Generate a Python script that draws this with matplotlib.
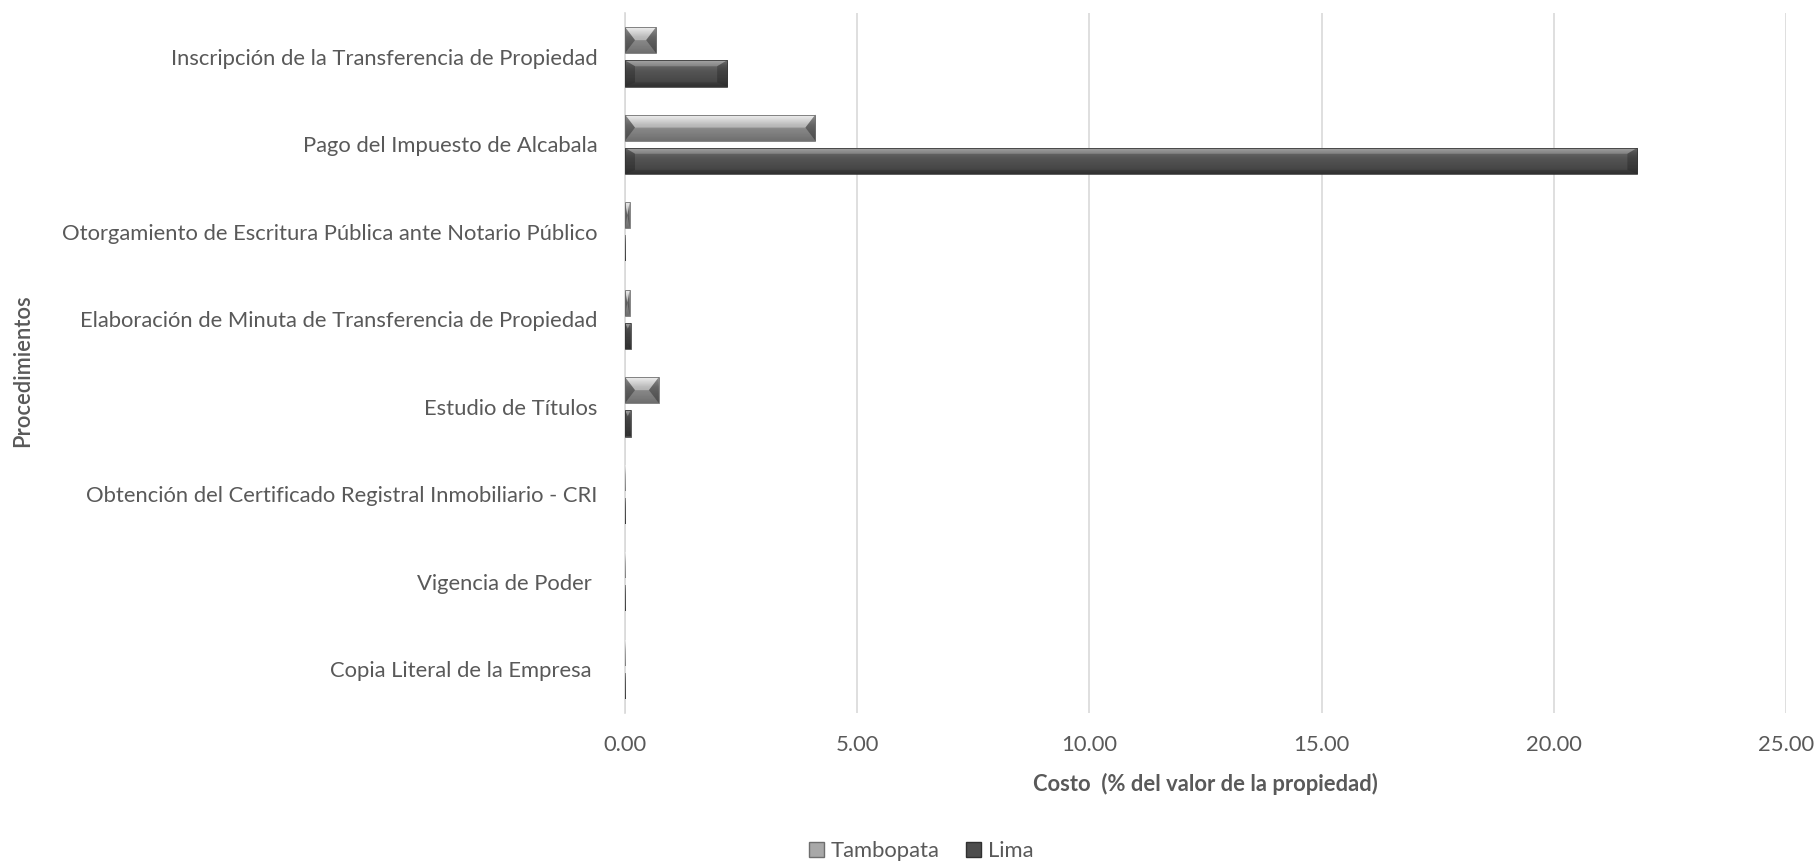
import numpy as np
import matplotlib
matplotlib.use("Agg")
import matplotlib.pyplot as plt
from matplotlib.colors import LinearSegmentedColormap
from matplotlib.patches import Patch, Polygon

plt.rcParams['font.family'] = ['Lato', 'DejaVu Sans']

# Procedures, listed bottom to top as drawn on the category axis
procedimientos = [
    "Copia Literal de la Empresa ",
    "Vigencia de Poder ",
    "Obtención del Certificado Registral Inmobiliario - CRI",
    "Estudio de Títulos",
    "Elaboración de Minuta de Transferencia de Propiedad",
    "Otorgamiento de Escritura Pública ante Notario Público",
    "Pago del Impuesto de Alcabala",
    "Inscripción de la Transferencia de Propiedad",
]
# Cost as % of property value
tambopata = [0.01, 0.01, 0.01, 0.73, 0.10, 0.10, 4.10, 0.67]
lima = [0.01, 0.01, 0.01, 0.12, 0.12, 0.01, 21.80, 2.20]

x_ticks = [0, 5, 10, 15, 20, 25]

TXT = "#595959"
GRID = "#d9d9d9"
FS = 15.8

fig = plt.figure(figsize=(18.18, 8.65), dpi=100)
W, H = 1818, 865
ax_left, ax_right, ax_top, ax_bot = 625, 1786, 13, 713
ax = fig.add_axes([ax_left / W, 1 - ax_bot / H,
                   (ax_right - ax_left) / W, (ax_bot - ax_top) / H])

y = np.arange(len(procedimientos))
bh = 0.30
off = 0.19
xmax = 25
ymin, ymax = -0.5, len(procedimientos) - 0.5

bars_t = ax.barh(y + off, tambopata, height=bh, color="#9a9a9a",
                 edgecolor="none", zorder=3)
bars_l = ax.barh(y - off, lima, height=bh, color="#4d4d4d",
                 edgecolor="none", zorder=3)

cm_t = LinearSegmentedColormap.from_list(
    "tamb", ["#f0f0f0", "#cdcdcd", "#a8a8a8", "#979797", "#8c8c8c", "#7e7e7e"])
cm_l = LinearSegmentedColormap.from_list(
    "lima", ["#8e8e8e", "#666666", "#555555", "#4e4e4e", "#474747", "#383838"])

grad = np.linspace(0, 1, 64).reshape(-1, 1)

# pixel -> data conversions for the bevel depth
px_x = xmax / (ax_right - ax_left)
px_y = (ymax - ymin) / (ax_bot - ax_top)


def shade(bars, cmap, bevel_px, top_px, bot_px, side_alpha, edge):
    for b in bars:
        x0, y0 = b.get_x(), b.get_y()
        w, h = b.get_width(), b.get_height()
        x1, y1 = x0 + w, y0 + h
        im = ax.imshow(grad, cmap=cmap, aspect="auto", origin="upper",
                       extent=(x0, x1, y0, y1), zorder=3.5,
                       interpolation="bilinear")
        im.set_clip_path(b)
        if w < 0.05:
            continue
        dx = min(bevel_px * px_x, w / 2)
        dt = top_px * px_y
        db = bot_px * px_y
        top = Polygon([(x0, y1), (x1, y1), (x1 - dx, y1 - dt), (x0 + dx, y1 - dt)],
                      closed=True, facecolor="white", alpha=0.22,
                      edgecolor="none", zorder=3.6)
        bot = Polygon([(x0, y0), (x1, y0), (x1 - dx, y0 + db), (x0 + dx, y0 + db)],
                      closed=True, facecolor="black", alpha=0.12,
                      edgecolor="none", zorder=3.6)
        lft = Polygon([(x0, y1), (x0 + dx, y1 - dt), (x0 + dx, y0 + db), (x0, y0)],
                      closed=True, facecolor="black", alpha=side_alpha,
                      edgecolor="none", zorder=3.7)
        rgt = Polygon([(x1, y1), (x1 - dx, y1 - dt), (x1 - dx, y0 + db), (x1, y0)],
                      closed=True, facecolor="black", alpha=side_alpha,
                      edgecolor="none", zorder=3.7)
        for p in (top, bot, lft, rgt):
            ax.add_patch(p)
        ax.add_patch(Polygon([(x0, y0), (x1, y0), (x1, y1), (x0, y1)], closed=True,
                             facecolor="none", edgecolor=edge, linewidth=0.7,
                             alpha=0.8, zorder=3.8))


bar_px = bh / px_y
# Tambopata: envelope bevel meeting at mid height; Lima: thin top and bottom bevel
shade(bars_t, cm_t, 10, bar_px / 2, bar_px / 2, 0.40, "#666666")
shade(bars_l, cm_l, 10, 6, 4, 0.22, "#333333")

ax.set_xlim(0, xmax)
ax.set_ylim(ymin, ymax)
ax.set_xticks(x_ticks)
ax.set_xticklabels([f"{v:.2f}" for v in x_ticks])
ax.set_yticks(y)
ax.set_yticklabels(procedimientos)

ax.grid(axis="x", color=GRID, linewidth=1.2, zorder=0)
ax.set_axisbelow(True)
for s in ["top", "right", "bottom"]:
    ax.spines[s].set_visible(False)
ax.spines["left"].set_color(GRID)
ax.spines["left"].set_linewidth(1.2)
ax.spines["left"].set_zorder(2)

ax.tick_params(axis="both", length=0, colors=TXT, labelsize=FS)
ax.tick_params(axis="y", pad=20)
ax.tick_params(axis="x", pad=16)

ax.set_xlabel("Costo  (% del valor de la propiedad)", fontsize=FS,
              fontweight="bold", color=TXT, labelpad=13)
fig.text(23 / W, 1 - 371 / H, "Procedimientos", rotation=90, fontsize=FS,
         color=TXT, ha="center", va="center", fontweight="semibold")

handles = [Patch(facecolor="#a8a8a8", edgecolor="#6e6e6e", label="Tambopata"),
           Patch(facecolor="#4d4d4d", edgecolor="#303030", label="Lima")]
fig.legend(handles=handles, loc="center", bbox_to_anchor=(921 / W, 1 - 851 / H),
           ncol=2, frameon=False, fontsize=FS, labelcolor=TXT,
           handlelength=0.7, handleheight=0.7, handletextpad=0.3,
           columnspacing=1.2)

fig.savefig("out.png", dpi=100, facecolor="white")
